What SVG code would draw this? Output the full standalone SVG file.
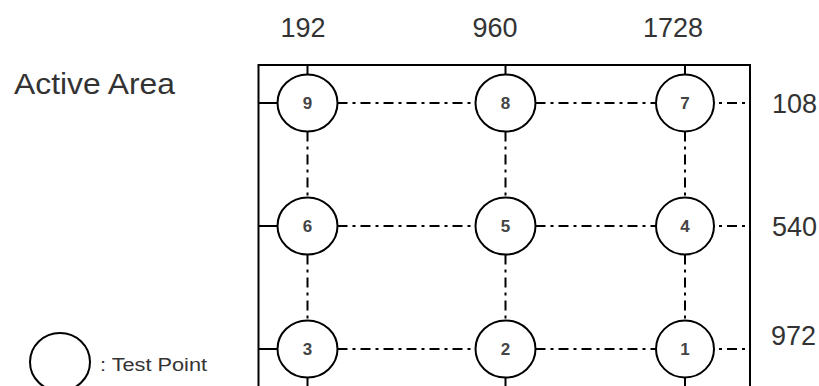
<svg xmlns="http://www.w3.org/2000/svg" width="819" height="386" viewBox="0 0 819 386">
<style>
.tp{fill:#fff;stroke:#000;stroke-width:2}
.num{font-family:"Liberation Sans",Arial,sans-serif;font-size:17px;font-weight:bold;fill:#444;text-anchor:middle}
.lbl{font-family:"Liberation Sans",Arial,sans-serif;font-size:27px;fill:#333}
.solid{stroke:#000;stroke-width:2;fill:none}
.dd{stroke:#000;stroke-width:2;fill:none;stroke-dasharray:10 5 3 5}
</style>
<rect width="819" height="386" fill="#fff"/>
<g id="labels">
<text class="lbl" x="14" y="94" style="font-size:30px" textLength="161" lengthAdjust="spacingAndGlyphs">Active Area</text>
<text class="lbl" x="303" y="37" text-anchor="middle">192</text>
<text class="lbl" x="495" y="37" text-anchor="middle">960</text>
<text class="lbl" x="673" y="37" text-anchor="middle">1728</text>
<text class="lbl" x="772" y="113">108</text>
<text class="lbl" x="772" y="236">540</text>
<text class="lbl" x="771" y="345">972</text>
</g>
<g id="active-area">
<rect x="258.5" y="65" width="491.5" height="340" class="solid"/>
</g>
<g id="connectors">
<path class="solid" d="M307.5 65V74.5M505.5 65V74.5M685 65V74.5M258.5 103H277.5M258.5 226H277.5M258.5 349H277.5"/>
<path class="dd" d="M337.5 103H475.5M535.5 103H656M337.5 226H475.5M535.5 226H656M337.5 349H475.5M535.5 349H656"/>
<path class="dd" stroke-dashoffset="10" d="M714 103H750M714 226H750M714 349H750"/>
<path class="dd" d="M307.5 131.5V197.5M505.5 131.5V197.5M685 131.5V197.5M307.5 254.5V320.5M505.5 254.5V320.5M685 254.5V320.5M307.5 377.5V395M505.5 377.5V395M685 377.5V395"/>
</g>
<g id="tp9"><ellipse class="tp" cx="307.5" cy="103" rx="30" ry="28.5"/><text class="num" x="307.5" y="109">9</text></g>
<g id="tp8"><ellipse class="tp" cx="505.5" cy="103" rx="30" ry="28.5"/><text class="num" x="505.5" y="109">8</text></g>
<g id="tp7"><ellipse class="tp" cx="685" cy="103" rx="29" ry="28.5"/><text class="num" x="685" y="109">7</text></g>
<g id="tp6"><ellipse class="tp" cx="307.5" cy="226" rx="30" ry="28.5"/><text class="num" x="307.5" y="232">6</text></g>
<g id="tp5"><ellipse class="tp" cx="505.5" cy="226" rx="30" ry="28.5"/><text class="num" x="505.5" y="232">5</text></g>
<g id="tp4"><ellipse class="tp" cx="685" cy="226" rx="29" ry="28.5"/><text class="num" x="685" y="232">4</text></g>
<g id="tp3"><ellipse class="tp" cx="307.5" cy="349" rx="30" ry="28.5"/><text class="num" x="307.5" y="355">3</text></g>
<g id="tp2"><ellipse class="tp" cx="505.5" cy="349" rx="30" ry="28.5"/><text class="num" x="505.5" y="355">2</text></g>
<g id="tp1"><ellipse class="tp" cx="685" cy="349" rx="29" ry="28.5"/><text class="num" x="685" y="355">1</text></g>
<g id="legend">
<ellipse class="tp" cx="60" cy="362" rx="30" ry="29"/>
<text class="lbl" x="100" y="371" style="font-size:18px" textLength="107" lengthAdjust="spacingAndGlyphs">: Test Point</text>
</g>
</svg>
